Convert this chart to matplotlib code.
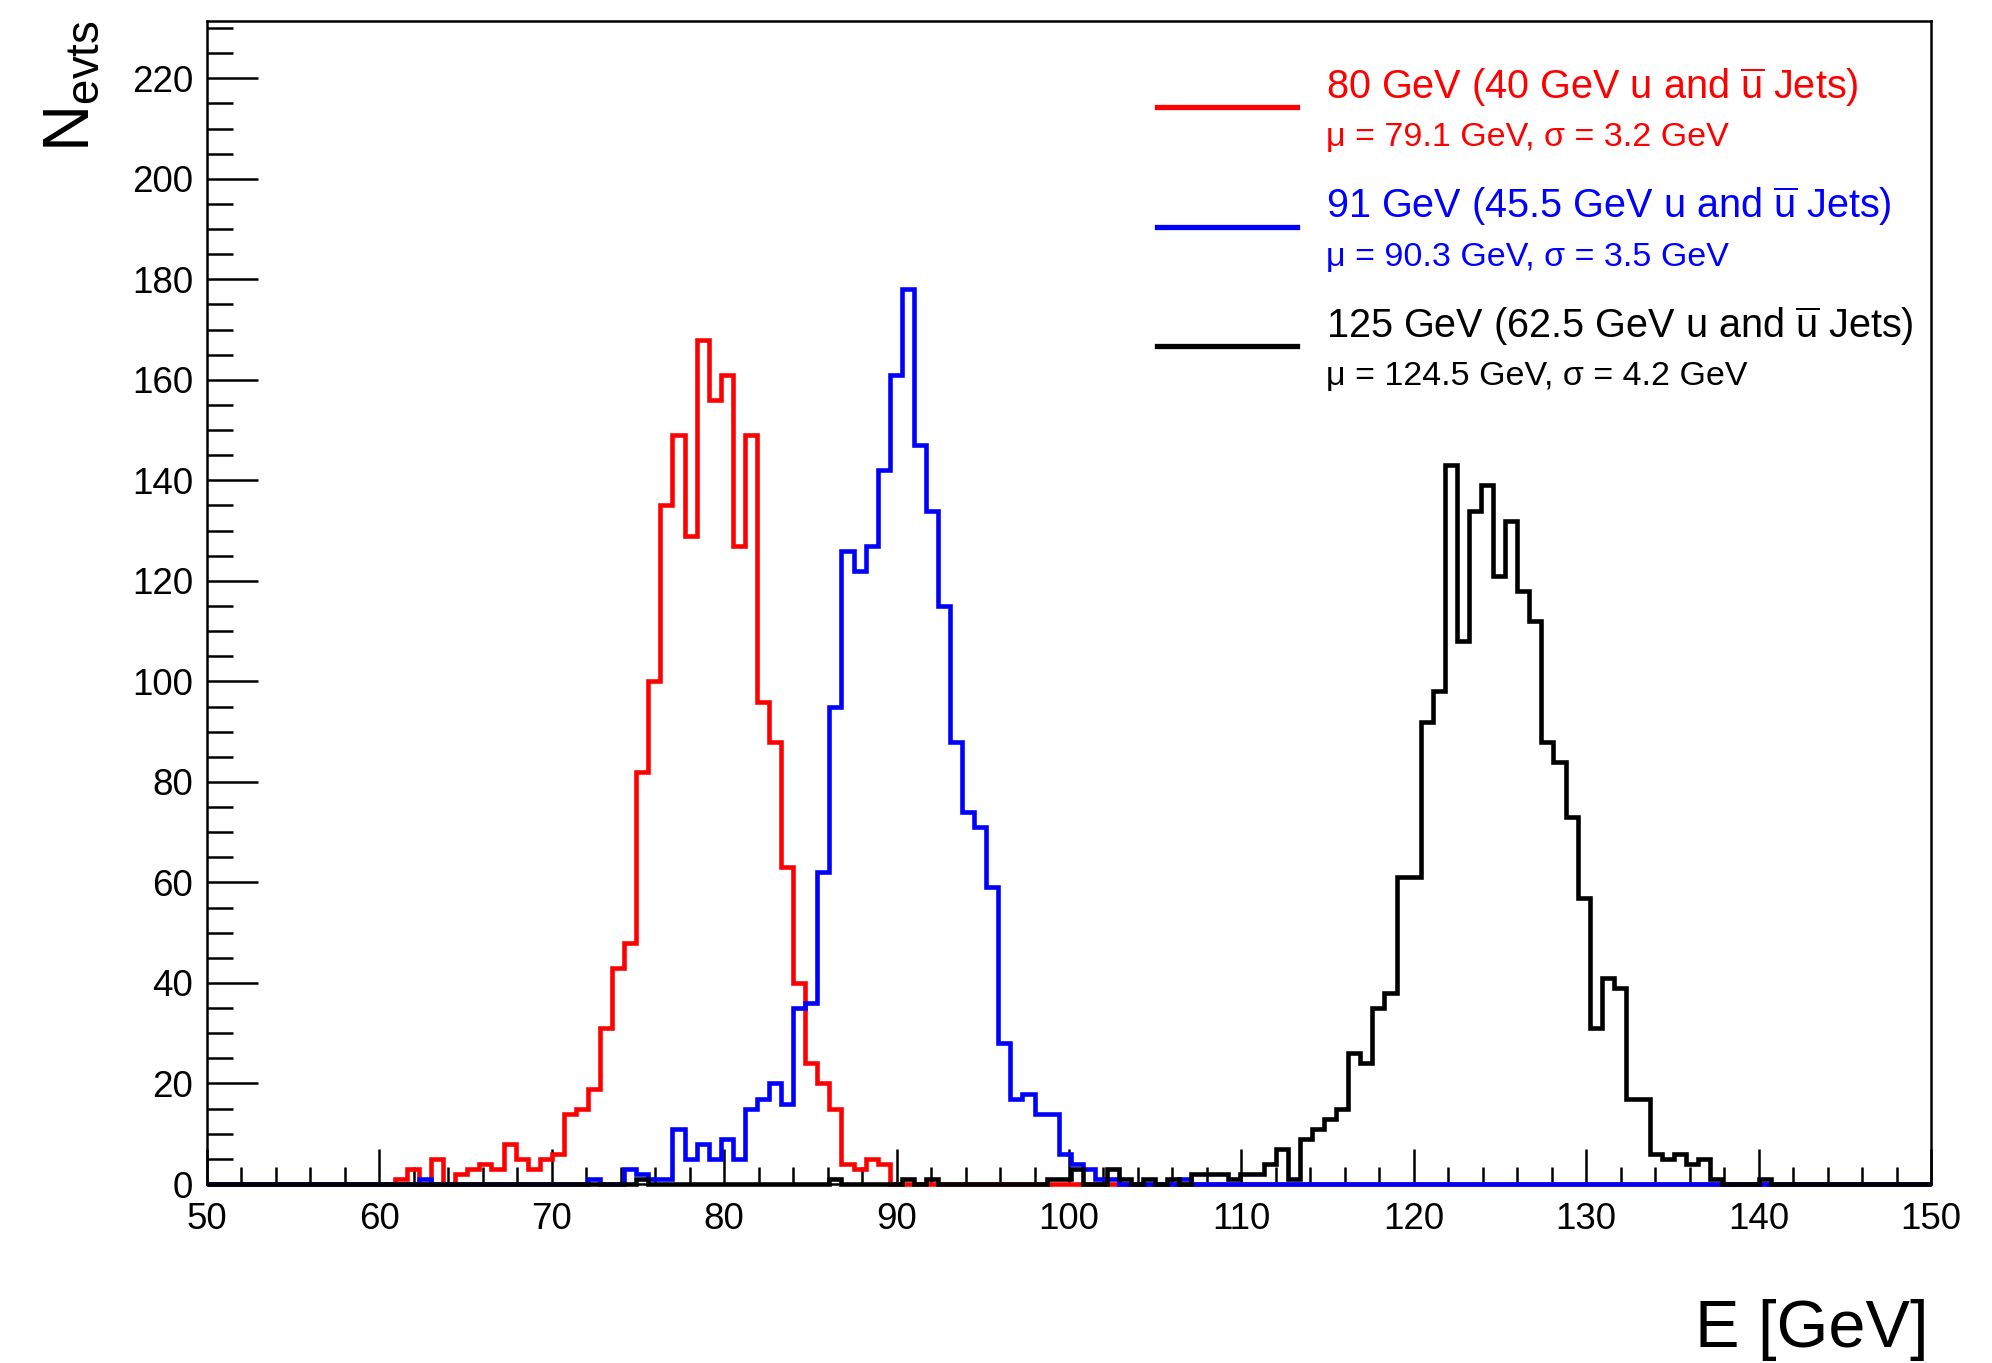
import numpy as np
import matplotlib.pyplot as plt
from matplotlib.lines import Line2D

plt.rcParams["font.family"] = ["Liberation Sans", "DejaVu Sans"]
plt.rcParams["mathtext.fontset"] = "custom"
plt.rcParams["mathtext.rm"] = "Liberation Sans"
plt.rcParams["mathtext.it"] = "Liberation Sans:italic"
plt.rcParams["mathtext.bf"] = "Liberation Sans:bold"

# histogram binning: edges at k * 0.7 GeV
BIN_WIDTH = 0.7
FIRST_BIN, LAST_BIN = 71, 215

# 80 GeV sample, counts from bin 87 (60.9 GeV)
red_start = 87
red_counts = [1, 3, 0, 5, 0, 2, 3, 4, 3, 8,
              5, 3, 5, 6, 14, 15, 19, 31, 43, 48,
              82, 100, 135, 149, 129, 168, 156, 161, 127, 149,
              96, 88, 63, 40, 24, 20, 15, 4, 3, 5, 4]

# 91 GeV sample, counts from bin 89 (62.3 GeV)
blue_start = 89
blue_counts = [1, 0, 0, 0, 0, 0, 0, 0, 0, 0,
               0, 0, 0, 0, 1, 0, 0, 3, 2, 1,
               1, 11, 5, 8, 5, 9, 5, 15, 17, 20,
               16, 35, 36, 62, 95, 126, 122, 127, 142, 161,
               178, 147, 134, 115, 88, 74, 71, 59, 28, 17,
               18, 14, 14, 6, 4, 3, 1, 1, 0, 0,
               0, 0, 0, 1]

# 125 GeV sample, counts from bin 107 (74.9 GeV)
black_start = 107
black_counts = [1,
                0, 0, 0, 0, 0, 0, 0, 0, 0, 0, 0, 0, 0, 0, 0,
                1, 0, 0, 0, 0, 0, 1, 0, 1,
                0, 0, 0, 0, 0, 0, 0, 0, 0,
                1, 1, 3, 0, 0, 3, 1, 0, 1, 0,
                1, 0, 2, 2, 2, 1, 2, 2, 4, 7,
                1, 9, 11, 13, 15, 26, 24, 35, 38, 61,
                61, 92, 98, 143, 108, 134, 139, 121, 132, 118,
                112, 88, 84, 73, 57, 31, 41, 39, 17, 17,
                6, 5, 6, 4, 5, 1, 0, 0, 0, 1]

labels = [r"80 GeV (40 GeV u and $\overline{\mathrm{u}}$ Jets)",
          r"91 GeV (45.5 GeV u and $\overline{\mathrm{u}}$ Jets)",
          r"125 GeV (62.5 GeV u and $\overline{\mathrm{u}}$ Jets)"]
stats = ["\u03bc = 79.1 GeV, \u03c3 = 3.2 GeV",
         "\u03bc = 90.3 GeV, \u03c3 = 3.5 GeV",
         "\u03bc = 124.5 GeV, \u03c3 = 4.2 GeV"]
colors = ["#ff0000", "#0000ff", "#000000"]

W, H = 1992, 1363


def fill(start, counts):
    n = LAST_BIN - FIRST_BIN
    h = np.zeros(n)
    i0 = start - FIRST_BIN
    h[i0:i0 + len(counts)] = counts
    return h


def main():
    edges = np.arange(FIRST_BIN, LAST_BIN + 1) * BIN_WIDTH
    edges = np.clip(edges, 50, 150)

    fig = plt.figure(figsize=(W / 100, H / 100), dpi=100)
    ax = fig.add_axes([207 / W, 1 - 1184 / H, (1931 - 207) / W, (1184 - 21) / H])

    for start, counts, c in [(red_start, red_counts, colors[0]),
                             (blue_start, blue_counts, colors[1]),
                             (black_start, black_counts, colors[2])]:
        ax.stairs(fill(start, counts), edges, color=c, linewidth=3.3,
                  clip_on=False, zorder=3)

    ax.set_xlim(50, 150)
    ax.set_ylim(0, 231.4)
    ax.set_xticks(np.arange(50, 151, 10))
    ax.set_xticks(np.arange(50, 151, 2), minor=True)
    ax.set_yticks(np.arange(0, 221, 20))
    ax.set_yticks(np.arange(0, 231, 5), minor=True)
    for s in ax.spines.values():
        s.set_linewidth(1.8)
    ax.tick_params(axis="x", which="major", direction="in", length=25, width=1.8,
                   labelsize=26.5, pad=13)
    ax.tick_params(axis="x", which="minor", direction="in", length=12.5, width=1.8)
    ax.tick_params(axis="y", which="major", direction="in", length=37, width=1.8,
                   labelsize=26.5, pad=10)
    ax.tick_params(axis="y", which="minor", direction="in", length=18.5, width=1.8)

    fig.text(1928 / W, 1 - 1347 / H, "E [GeV]", fontsize=48, ha="right", va="baseline")
    fig.text(102 / W, 1 - 20 / H, r"N$_{\mathrm{evts}}$", fontsize=47, rotation=90,
             ha="right", va="top")

    # legend: line sample, title and fit numbers
    for i in range(3):
        ly = 107 + 119.5 * i
        fig.add_artist(Line2D([1157 / W, 1297 / W], [1 - ly / H, 1 - ly / H],
                              color=colors[i], linewidth=3.8))
        fig.text(1326 / W, 1 - (ly - 8) / H, labels[i], color=colors[i],
                 fontsize=28.5, ha="left", va="baseline")
        fig.text(1326 / W, 1 - (ly + 39) / H, stats[i], color=colors[i],
                 fontsize=24.5, ha="left", va="baseline")

    fig.savefig("out.png", dpi=100)
    plt.close(fig)


if __name__ == "__main__":
    main()
